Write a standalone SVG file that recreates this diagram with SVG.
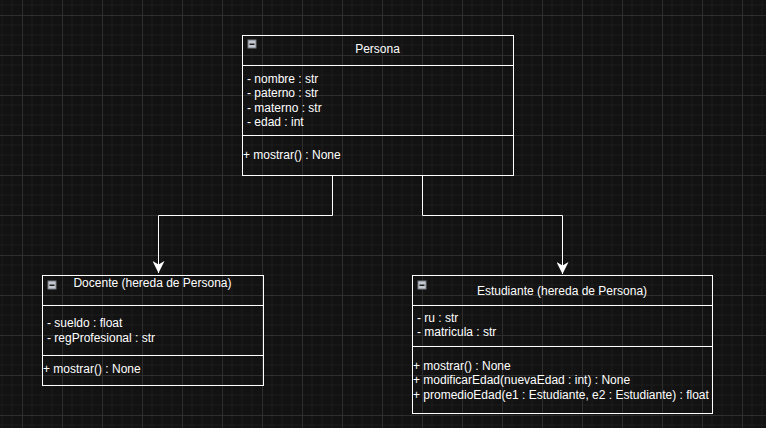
<svg xmlns="http://www.w3.org/2000/svg" width="766" height="428" viewBox="0 0 766 428">
<defs>
<pattern id="grid" x="22" y="15" width="40" height="40" patternUnits="userSpaceOnUse">
<path d="M10 0V40M20 0V40M30 0V40M0 10H40M0 20H40M0 30H40" stroke="#1b1b1b" stroke-width="1" fill="none"/>
<path d="M0.5 0V40M0 0.5H40" stroke="#2e2e2e" stroke-width="1" fill="none"/>
</pattern>
<marker id="arr" markerUnits="userSpaceOnUse" markerWidth="12" markerHeight="12" refX="10" refY="5" orient="auto" viewBox="0 0 10 10">
<path d="M0 0L10 5L0 10L3 5Z" fill="#ffffff"/>
</marker>
<g id="icon">
<rect x="0.5" y="0.5" width="8" height="8" fill="#c4c8d0" stroke="#7a7e86" stroke-width="1"/>
<rect x="2" y="4" width="5" height="1.5" fill="#222"/>
</g>
</defs>
<style>
.box{fill:none;stroke:#ffffff;stroke-width:1}
.sep{stroke:#ffffff;stroke-width:1}
text{font-family:"Liberation Sans",Arial,sans-serif;font-size:12px;fill:#ffffff}
.t{text-anchor:middle}
.edge{fill:none;stroke:#ffffff;stroke-width:1}
</style>
<rect width="766" height="428" fill="#121212"/>
<rect width="766" height="428" fill="url(#grid)"/>

<g id="connectors">
<path class="edge" d="M332.5 175V215.5H158.5V273" marker-end="url(#arr)"/>
<path class="edge" d="M422.5 175V215.5H562.5V274" marker-end="url(#arr)"/>
</g>

<g id="persona">
<rect class="box" x="242.5" y="35.5" width="271" height="140"/>
<line class="sep" x1="242" y1="65.5" x2="513" y2="65.5"/>
<line class="sep" x1="242" y1="135.5" x2="514" y2="135.5"/>
<use href="#icon" x="247.5" y="39.5"/>
<text class="t" x="377.5" y="53">Persona</text>
<text x="247" y="83">- nombre : str</text>
<text x="247" y="97">- paterno : str</text>
<text x="247" y="111.5">- materno : str</text>
<text x="247" y="125.5">- edad : int</text>
<text x="243" y="159">+ mostrar() : None</text>
</g>

<g id="docente">
<rect class="box" x="42.5" y="275.5" width="221" height="110"/>
<line class="sep" x1="42" y1="305.5" x2="263" y2="305.5"/>
<line class="sep" x1="42" y1="355.5" x2="263" y2="355.5"/>
<use href="#icon" x="47.5" y="280.5"/>
<text class="t" x="152.5" y="287">Docente (hereda de Persona)</text>
<text x="47" y="327">- sueldo : float</text>
<text x="47" y="342">- regProfesional : str</text>
<text x="43" y="373">+ mostrar() : None</text>
</g>

<g id="estudiante">
<rect class="box" x="412.5" y="275.5" width="300" height="138"/>
<line class="sep" x1="412" y1="305.5" x2="712" y2="305.5"/>
<line class="sep" x1="412" y1="346.5" x2="712" y2="346.5"/>
<use href="#icon" x="417.5" y="280.5"/>
<text class="t" x="562" y="295">Estudiante (hereda de Persona)</text>
<text x="417" y="322">- ru : str</text>
<text x="417" y="336">- matricula : str</text>
<text x="413" y="370">+ mostrar() : None</text>
<text x="413" y="384">+ modificarEdad(nuevaEdad : int) : None</text>
<text x="413" y="398.5">+ promedioEdad(e1 : Estudiante, e2 : Estudiante) : float</text>
</g>
</svg>
